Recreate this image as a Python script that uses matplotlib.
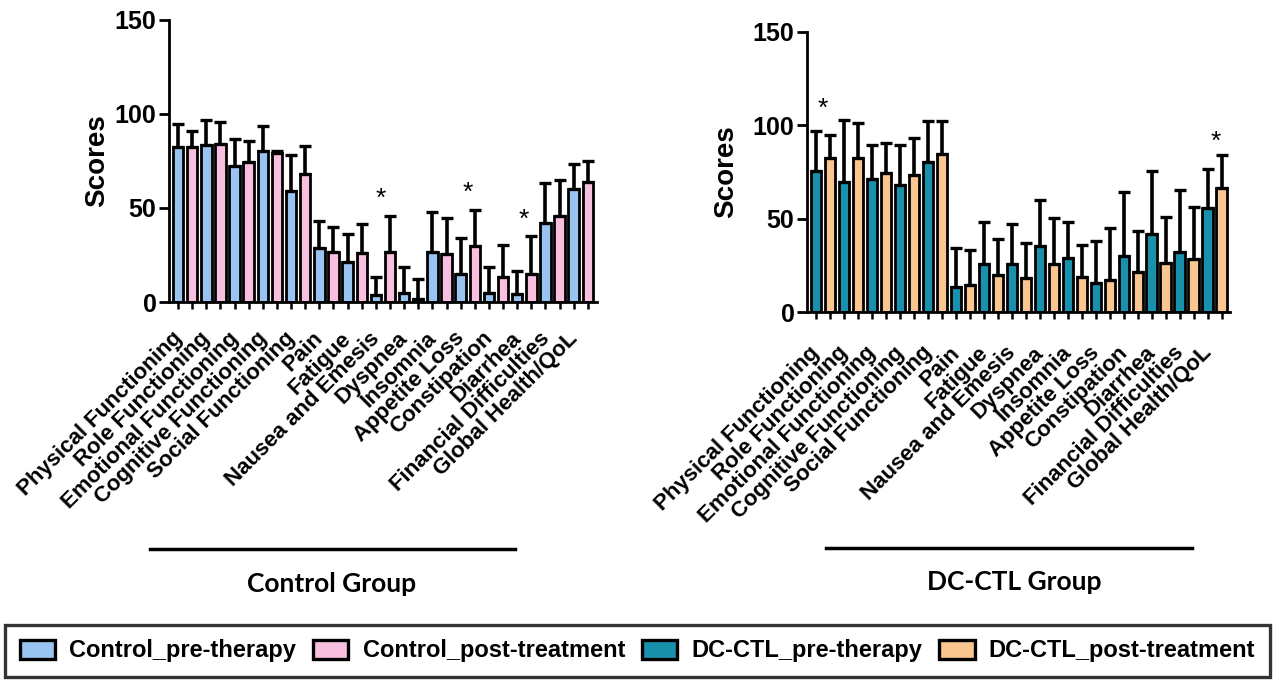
import matplotlib
matplotlib.use("Agg")
import matplotlib.pyplot as plt
from matplotlib.patches import Patch
from matplotlib.lines import Line2D
import numpy as np

categories = ["Physical Functioning", "Role Functioning", "Emotional Functioning",
              "Cognitive Functioning", "Social Functioning", "Pain", "Fatigue",
              "Nausea and Emesis", "Dyspnea", "Insomnia", "Appetite Loss",
              "Constipation", "Diarrhea", "Financial Difficulties", "Global Health/QoL"]

control_pre = [82.6, 83.5, 72.5, 80.5, 59.2, 28.6, 21.1, 3.7, 5.0, 26.8, 14.9, 4.6, 4.3, 41.8, 59.9]
control_pre_sd = [12.1, 13.5, 14.0, 13.3, 19.0, 14.4, 14.9, 9.8, 13.8, 21.2, 19.0, 14.2, 12.4, 21.3, 13.5]
control_post = [82.6, 84.0, 74.3, 79.4, 67.9, 26.4, 26.2, 26.8, 1.6, 25.5, 29.8, 13.5, 14.9, 45.7, 64.0]
control_post_sd = [8.4, 12.0, 11.5, 0.8, 15.1, 13.6, 15.3, 19.1, 10.6, 19.0, 19.1, 16.8, 20.4, 19.2, 11.2]

dcctl_pre = [75.7, 69.5, 71.1, 68.1, 80.2, 13.7, 25.8, 25.8, 35.6, 28.9, 15.8, 30.3, 41.7, 32.4, 55.9]
dcctl_pre_sd = [21.3, 33.5, 18.4, 21.4, 22.3, 20.5, 22.3, 21.4, 24.4, 19.6, 22.3, 34.2, 34.0, 33.0, 20.6]
dcctl_post = [82.7, 82.7, 74.7, 73.4, 84.5, 14.6, 19.9, 18.2, 25.8, 19.1, 17.3, 21.7, 26.2, 28.5, 66.3]
dcctl_post_sd = [12.1, 18.7, 15.7, 20.0, 18.0, 18.7, 19.1, 18.7, 24.5, 16.9, 27.9, 21.8, 24.6, 27.6, 17.8]

# significance stars: (category index, x offset within pair, height)
control_stars = [(7, 0.35, 55), (10, 0.5, 58), (12, 0.5, 43.5)]
dcctl_stars = [(0, 0.5, 109), (14, 0.6, 91)]

yticks = [0, 50, 100, 150]
legend_labels = ["Control_pre-therapy", "Control_post-treatment",
                 "DC-CTL_pre-therapy", "DC-CTL_post-treatment"]
colors = ["#99c3f0", "#f8c0de", "#1a91ac", "#f8c68e"]
group_names = ["Control Group", "DC-CTL Group"]

plt.rcParams['font.family'] = ['Liberation Sans', 'DejaVu Sans']

fig = plt.figure(figsize=(12.76, 6.80), dpi=100)
W, H = 1276, 680

def draw(rect, pre, pre_sd, post, post_sd, c_pre, c_post, stars, xlim, label_pad, ylabelpad):
    ax = fig.add_axes(rect)
    n = len(pre)
    xpre = np.arange(n) * 2
    xpost = xpre + 1
    bw = 0.74
    ekw = dict(ecolor='black', elinewidth=2.6, capsize=4, capthick=2.4)
    ax.bar(xpre, pre, width=bw, color=c_pre, edgecolor='black', linewidth=2.0,
           yerr=[np.zeros(n), pre_sd], error_kw=ekw, zorder=2)
    ax.bar(xpost, post, width=bw, color=c_post, edgecolor='black', linewidth=2.0,
           yerr=[np.zeros(n), post_sd], error_kw=ekw, zorder=2)
    ax.set_ylim(0, 150)
    ax.set_xlim(*xlim)
    ax.set_yticks(yticks)
    ax.set_yticklabels([str(t) for t in yticks], fontsize=18, fontweight='bold')
    ax.set_ylabel("Scores", fontsize=20, fontweight='bold', labelpad=ylabelpad)
    ax.spines['top'].set_visible(False)
    ax.spines['right'].set_visible(False)
    ax.spines['left'].set_linewidth(2.0)
    ax.spines['bottom'].set_linewidth(2.0)
    ax.set_xticks(np.arange(2 * n))
    ax.set_xticklabels([])
    ax.tick_params(axis='x', which='major', length=5, width=1.8, direction='out')
    ax.tick_params(axis='y', which='major', length=7, width=2.0, direction='out', pad=2)
    ax.set_xticks(xpre + 0.05, minor=True)
    ax.set_xticklabels(categories, minor=True, rotation=45, ha='right', va='center',
                       rotation_mode='anchor', fontsize=16, fontweight='bold')
    ax.tick_params(axis='x', which='minor', length=0, pad=label_pad)
    for cat, off, y in stars:
        ax.text(2 * cat + off, y, "*", ha='center', va='center', fontsize=19)
    return ax

# left: x 169..597, y 20..302
axL = draw([169 / W, 1 - 302 / H, (597 - 169) / W, (302 - 20) / H],
           control_pre, control_pre_sd, control_post, control_post_sd,
           colors[0], colors[1], control_stars, (-0.64, 29.65), 24, 3)
# right: x 807..1230, y 31.7..312.3
axR = draw([807 / W, 1 - 312.3 / H, (1230 - 807) / W, (312.3 - 31.7) / H],
           dcctl_pre, dcctl_pre_sd, dcctl_post, dcctl_post_sd,
           colors[2], colors[3], dcctl_stars, (-0.64, 29.6), 27, 10)

# group lines and labels
for (x0, x1, yl, xt, yt), name in zip([(150, 515, 549, 332, 584), (826, 1192, 548, 1014, 582)], group_names):
    fig.add_artist(Line2D([x0 / W, x1 / W], [1 - yl / H, 1 - yl / H], color='black', lw=2.5))
    fig.text(xt / W, 1 - yt / H, name, ha='center', va='center', fontsize=19,
             fontweight='bold', family=['Lato', 'DejaVu Sans'])

handles = [Patch(facecolor=c, edgecolor='black', linewidth=2.4) for c in colors]
leg = fig.legend(handles, legend_labels, loc='lower left', ncol=4, mode='expand',
                 bbox_to_anchor=(5 / W, 3 / H, 1265 / W, 52 / H),
                 prop={'weight': 'bold', 'size': 17, 'family': 'Liberation Sans'},
                 frameon=True, fancybox=False, edgecolor='black',
                 handlelength=1.5, handleheight=0.85, handletextpad=0.6,
                 borderaxespad=0, borderpad=0.62)
leg.get_frame().set_linewidth(2.4)

fig.savefig("out.png", dpi=100)
